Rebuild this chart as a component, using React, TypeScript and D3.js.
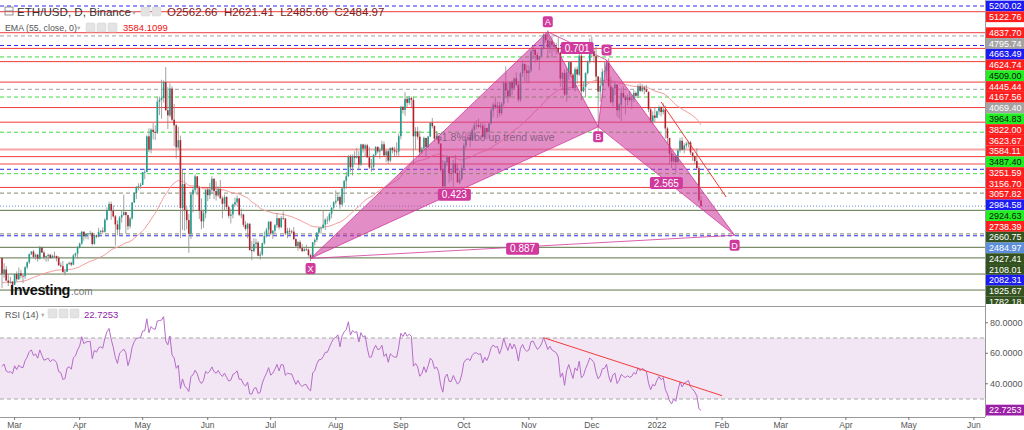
import React from 'react';
import * as d3 from 'd3';

// ---------- DATA ----------
const firstDay = [2021, 1, 23]; // Feb 23 2021
const prevClose = 1781; // close of Feb 22 2021 (open of first candle)

// daily [high, low, close]
const feb21 = [[1781,1371,1569],[1710,1511,1625],[1673,1467,1475],[1558,1400,1446],[1525,1432,1459],[1467,1293,1417]];
const mar21 = [[1570,1412,1564],[1599,1460,1492],[1651,1482,1575],[1622,1505,1541],[1549,1440,1533],[1670,1494,1655],[1735,1631,1723],
  [1840,1700,1834],[1875,1820,1868],[1889,1772,1795],[1840,1755,1825],[1838,1730,1772],[1946,1760,1924],[1932,1850,1854],
  [1880,1760,1791],[1813,1730,1806],[1840,1735,1823],[1840,1770,1782],[1830,1775,1810],[1868,1795,1806],[1815,1733,1781],
  [1806,1675,1681],[1720,1655,1670],[1740,1585,1588],[1627,1545,1595],[1708,1590,1701],[1733,1682,1715],[1730,1670,1690],
  [1835,1685,1816],[1855,1790,1842],[1945,1772,1919]];
const apr21 = [[1990,1910,1977],[2150,1960,2136],[2145,2016,2076],[2110,2040,2107],[2120,2030,2112],[2150,2080,2118],[2135,1950,1971],
  [2098,1960,2088],[2100,2050,2071],[2190,2060,2134],[2160,2112,2151],[2200,2110,2138],[2320,2125,2299],[2470,2290,2432],
  [2545,2420,2514],[2545,2300,2422],[2495,2330,2346],[2365,1950,2237],[2290,2090,2166],[2350,2080,2330],[2430,2260,2364],
  [2640,2355,2403],[2410,2110,2363],[2360,2160,2211],[2340,2180,2317],[2540,2300,2534],[2675,2530,2662],[2755,2580,2746],
  [2795,2700,2757],[2800,2720,2773]];
const may21 = [[2950,2770,2945],[2990,2850,2949],[3445,2940,3431],[3540,3215,3253],[3540,3200,3522],[3610,3390,3490],[3580,3380,3484],
  [3965,3465,3902],[3970,3720,3928],[4200,3670,3952],[4190,3890,4168],[4372,3780,3785],[4100,3530,3716],[4150,3690,4080],
  [4110,3640,3657],[3870,3300,3581],[3600,3130,3282],[3560,3260,3380],[3440,2050,2460],[2990,2160,2784],[2940,2150,2430],
  [2480,2170,2295],[2380,1850,2110],[2680,2040,2643],[2750,2400,2706],[2915,2655,2888],[2890,2630,2736],[2760,2310,2420],
  [2590,2170,2278],[2440,2190,2386],[2710,2320,2707]];
const jun21 = [[2740,2550,2634],[2800,2580,2707],[2890,2660,2856],[2860,2580,2688],[2820,2560,2630],[2750,2610,2715],[2840,2580,2590],
  [2620,2320,2517],[2640,2420,2608],[2620,2440,2472],[2490,2320,2353],[2450,2250,2372],[2520,2320,2508],[2600,2480,2537],
  [2630,2490,2590],[2590,2350,2368],[2450,2320,2372],[2380,2200,2231],[2280,2150,2178],[2260,2050,2246],[2250,1880,1889],
  [2010,1750,1875],[2050,1860,1971],[2040,1910,1990],[2010,1805,1812],[1870,1760,1829],[1990,1810,1982],[2140,1960,2080],
  [2190,2060,2165],[2275,2110,2275]];
const jul21 = [[2275,2090,2113],[2160,2040,2150],[2240,2120,2226],[2390,2190,2321],[2320,2170,2198],[2350,2190,2324],[2410,2300,2315],
  [2325,2090,2114],[2190,2050,2150],[2190,2090,2140],[2165,2110,2139],[2200,2020,2037],[2050,1940,1940],[2010,1880,1995],
  [2020,1900,1914],[1970,1860,1875],[1920,1870,1898],[1960,1880,1895],[1910,1800,1820],[1840,1740,1788],[2000,1780,1995],
  [2045,1950,2027],[2130,2000,2125],[2200,2110,2187],[2200,2110,2190],[2430,2180,2234],[2320,2160,2300],[2345,2240,2300],
  [2400,2270,2380],[2470,2320,2463],[2550,2440,2536]];
const aug21 = [[2700,2510,2557],[2665,2550,2609],[2630,2450,2507],[2740,2490,2725],[2840,2530,2827],[2950,2720,2890],[3175,2880,3157],
  [3185,2950,3012],[3185,2900,3164],[3230,3060,3141],[3275,3130,3164],[3230,2970,3048],[3330,3030,3322],[3330,3210,3265],
  [3330,3150,3310],[3330,3140,3147],[3290,2990,3011],[3125,2950,3018],[3190,2970,3182],[3300,3160,3286],[3300,3200,3226],
  [3280,3130,3243],[3370,3230,3324],[3360,3160,3173],[3250,3080,3228],[3250,3060,3102],[3280,3080,3275],[3290,3200,3244],
  [3290,3150,3226],[3350,3170,3225],[3470,3150,3433]];
const sep21 = [[3840,3390,3834],[3830,3740,3789],[4030,3710,3940],[3970,3830,3887],[3980,3860,3952],[3970,3830,3927],[3970,3050,3432],
  [3555,3250,3497],[3560,3390,3427],[3510,3170,3212],[3290,3190,3265],[3430,3240,3410],[3410,3150,3287],[3440,3275,3429],
  [3620,3420,3616],[3680,3540,3571],[3580,3360,3400],[3500,3390,3434],[3440,3320,3334],[3330,2950,2977],[3110,2740,2753],
  [3100,2715,3077],[3170,3030,3155],[3160,2800,2932],[2970,2830,2927],[3110,2750,3063],[3180,2930,2934],[3060,2810,2806],
  [2970,2780,2853],[3040,2830,3001]];
const oct21 = [[3340,2970,3308],[3470,3270,3390],[3490,3370,3418],[3440,3285,3380],[3550,3370,3518],[3620,3400,3580],[3650,3530,3587],
  [3670,3550,3561],[3620,3540,3576],[3610,3410,3425],[3600,3400,3545],[3550,3390,3492],[3610,3410,3606],[3820,3590,3786],
  [3890,3690,3862],[3970,3800,3829],[3900,3680,3849],[3900,3700,3747],[3890,3720,3877],[4180,3840,4155],[4380,3950,4054],
  [4160,3890,3971],[4180,3950,4169],[4190,3990,4082],[4230,4060,4217],[4300,4110,4131],[4180,3900,3930],[4300,3900,4287],
  [4460,4240,4414],[4420,4180,4325],[4400,4150,4288]];
const nov21 = [[4390,4150,4324],[4600,4300,4585],[4670,4480,4607],[4620,4430,4537],[4570,4440,4475],[4520,4330,4521],[4640,4510,4620],
  [4830,4610,4813],[4840,4700,4735],[4870,4500,4637],[4780,4560,4723],[4810,4500,4667],[4710,4580,4648],[4700,4540,4629],
  [4780,4550,4570],[4580,4100,4214],[4300,4060,4292],[4340,3980,3999],[4350,3900,4301],[4450,4200,4439],[4450,4240,4268],
  [4290,4060,4087],[4370,4040,4342],[4380,4140,4270],[4550,4250,4525],[4550,3920,4041],[4180,4030,4100],[4300,3960,4290],
  [4460,4270,4445],[4760,4420,4635]];
const dec21 = [[4780,4500,4586],[4630,4430,4519],[4650,4180,4242],[4250,3500,4039],[4230,3900,4117],[4350,3950,4308],[4440,4270,4319],
  [4450,4200,4432],[4490,4090,4111],[4240,3880,3895],[4100,3840,4083],[4160,3990,4133],[4140,3700,3785],[3880,3670,3862],
  [4090,3640,4018],[4110,3950,3960],[3990,3730,3922],[4000,3850,3962],[4050,3900,3924],[3990,3800,3941],[4060,3900,4020],
  [4040,3950,3982],[4140,3950,4110],[4150,4030,4049],[4140,4030,4095],[4120,4000,4067],[4130,4030,4036],[4040,3760,3798],
  [3830,3610,3633],[3770,3590,3714],[3820,3620,3683]];
const jan22 = [[3780,3680,3770],[3850,3720,3829],[3840,3700,3761],[3880,3730,3794],[3850,3400,3538],[3560,3330,3410],[3410,3060,3197],
  [3240,3000,3092],[3200,3060,3158],[3170,2930,3083],[3260,3060,3239],[3410,3210,3372],[3420,3240,3250],[3340,3200,3308],
  [3360,3270,3330],[3370,3280,3350],[3370,3180,3212],[3200,3100,3164],[3170,3060,3096],[3270,2980,3000],[3030,2530,2562.66],
  [2621.41,2485.66,2484.97]];

const emaSeed = 1440;              // EMA(55) level just before the first candle
const rsiSeed = [70, 50];          // Wilder avg gain / avg loss before the first candle

// horizontal levels: [price, kind, labelled]
const levels: [number, string, boolean][] = [
  [5200.02,'blue',true],[5122.76,'red',true],[4837.70,'red',true],[4795.74,'grey',true],[4663.49,'blue',true],
  [4624.74,'red',true],[4509.00,'green',true],[4445.44,'red',true],[4167.56,'red',true],[4069.40,'grey',true],
  [3964.83,'green',true],[3822.00,'red',true],[3623.67,'red',true],[3487.40,'green',true],[3251.59,'lightred',true],
  [3156.70,'red',true],[3057.82,'lightred',true],[2984.58,'blue',true],[2924.63,'green',true],[2738.39,'red',true],
  [2660.75,'olivedash',true],[2427.41,'olive',true],[2108.01,'olivedash',true],[2082.31,'blue',true],[1925.67,'olive',true],
  [1782.18,'olive',true],[1563,'olive',false],[1346,'olive',false]
];
const lastPrice = 2484.97;
const emaValue = 3584.11;
const emaHeader = '3584.1099';
const rsiHeader = '22.7253';
const ohlcHeader = 'O2562.66  H2621.41  L2485.66  C2484.97';

// harmonic pattern points [label, date, price]
const patternPts: [string, [number, number, number], number][] = [
  ['X', [2021, 6, 20], 1775], ['A', [2021, 10, 10], 4850], ['B', [2021, 11, 4], 3560],
  ['C', [2021, 11, 8], 4467], ['D', [2022, 1, 7], 2089]
];
const ratioLabels: [string, string, string][] = [['X','B','0.423'],['A','C','0.701'],['B','D','2.565'],['X','D','0.887']];
const priceTrend: [[number, number, number], number][] = [[[2022,0,3],3897],[[2022,1,3],2608]];
const rsiTrend: [[number, number, number], number][] = [[[2021,10,8],70.2],[[2022,1,1],32.2]];
const rsiTicks = [80, 60, 40];

// ---------- STYLES ----------
const lineStyle: Record<string, {c: string; w: number; d?: string}> = {
  blue: {c: '#2b2bf0', w: 1, d: '4,3'},
  red: {c: '#f23b3b', w: 1},
  lightred: {c: '#f5a3a3', w: 2},
  grey: {c: '#b4b4b4', w: 1.3, d: '4,3'},
  green: {c: '#3fdc3f', w: 1, d: '4,3'},
  olive: {c: '#5d7447', w: 1},
  olivedash: {c: '#9aa58c', w: 1.3, d: '4,3'},
};
const labelStyle: Record<string, {bg: string; fg: string}> = {
  blue: {bg: '#1c1cf2', fg: '#fff'},
  red: {bg: '#ff1e1e', fg: '#fff'},
  lightred: {bg: '#ff1e1e', fg: '#fff'},
  grey: {bg: '#a3a3a3', fg: '#fff'},
  green: {bg: '#22ee22', fg: '#111'},
  olive: {bg: '#33521f', fg: '#fff'},
  olivedash: {bg: '#33521f', fg: '#fff'},
  ema: {bg: '#ff1e1e', fg: '#fff'},
  last: {bg: '#5e8fdc', fg: '#fff'},
};

const FONT = 'Liberation Sans, Arial, sans-serif';
const PINK = '#cf3a9c';

export default function App() {
  const plotR = 985;
  const mainBottom = 306;
  const rsiBottom = 417;
  const x = d3.scaleTime().domain([new Date(2021, 2, 1), new Date(2022, 5, 1)]).range([14.6, 973.9]);
  const y = d3.scaleLinear().domain([5200.02, 1782.18]).range([6, 257.9]);
  const yR = d3.scaleLinear().domain([70, 30]).range([338, 399]);
  const D = (a: [number, number, number]) => new Date(a[0], a[1], a[2]);

  const raw = [...feb21, ...mar21, ...apr21, ...may21, ...jun21, ...jul21, ...aug21, ...sep21, ...oct21, ...nov21, ...dec21, ...jan22];
  let pc = prevClose;
  let ema = emaSeed;
  let [ag, al] = rsiSeed;
  const candles = raw.map((r, i) => {
    const o = pc;
    const [h, l, c] = r;
    const ch = c - pc;
    ag = (ag * 13 + Math.max(ch, 0)) / 14;
    al = (al * 13 + Math.max(-ch, 0)) / 14;
    ema = ema + (c - ema) * 2 / 56;
    pc = c;
    return {
      date: d3.timeDay.offset(new Date(firstDay[0], firstDay[1], firstDay[2]), i),
      o, h: Math.max(h, o, c), l: Math.min(l, o, c), c, ema, rsi: 100 - 100 / (1 + ag / al),
    };
  });

  const emaLine = d3.line<any>().x(d => x(d.date)).y(d => y(d.ema)).curve(d3.curveMonotoneX)(candles) || '';
  const rsiLine = d3.line<any>().x(d => x(d.date)).y(d => yR(d.rsi))(candles) || '';

  // price labels stacked
  const lbls: {p: number; kind: string}[] = levels.filter(l => l[2]).map(l => ({p: l[0], kind: l[1]}));
  lbls.push({p: emaValue, kind: 'ema'});
  lbls.push({p: lastPrice, kind: 'last'});
  lbls.sort((a, b) => b.p - a.p);
  const LH = 10.76;
  let prevY = -100;
  const placed = lbls.map(l => {
    const yy = Math.max(y(l.p), prevY + LH);
    prevY = yy;
    return {...l, yy};
  });

  const pts: Record<string, {x: number; y: number}> = {};
  patternPts.forEach(([k, d, p]) => { pts[k] = {x: x(D(d)), y: y(p)}; });
  const poly = (ks: string[]) => ks.map(k => `${pts[k].x},${pts[k].y}`).join(' ');

  const months = d3.timeMonth.range(new Date(2021, 2, 1), new Date(2022, 5, 2));
  const fmt = (d: Date) => d.getMonth() === 0 ? String(d.getFullYear()) : d3.timeFormat('%b')(d);

  const icon = (xx: number, yy: number, key: string) => (
    <rect key={key} x={xx} y={yy} width={9} height={9} rx={1} fill="#e3e3e3" stroke="#d0d0d0" strokeWidth={0.5} />
  );

  return (
    <svg width={1024} height={430} style={{position: 'absolute', left: 0, top: 0, background: '#fff'}} fontFamily={FONT}>
      <defs>
        <clipPath id="mainClip"><rect x={0} y={0} width={plotR} height={mainBottom} /></clipPath>
        <clipPath id="rsiClip"><rect x={0} y={mainBottom} width={plotR} height={rsiBottom - mainBottom} /></clipPath>
        <clipPath id="lblClip"><rect x={plotR} y={0} width={1024 - plotR} height={mainBottom - 2} /></clipPath>
      </defs>
      <rect x={0} y={0} width={1024} height={430} fill="#fff" />

      {/* main panel */}
      <g clipPath="url(#mainClip)">
        {levels.map(([p, kind], i) => {
          const s = lineStyle[kind];
          return <line key={'lv' + i} x1={0} x2={plotR} y1={y(p)} y2={y(p)} stroke={s.c} strokeWidth={s.w} strokeDasharray={s.d} />;
        })}
        <line x1={0} x2={plotR} y1={y(lastPrice)} y2={y(lastPrice)} stroke="#5e8fdc" strokeWidth={1} strokeDasharray="1,2" />
        <path d={emaLine} fill="none" stroke="#f39a9a" strokeWidth={1} />
        {candles.map((d, i) => {
          const cx = x(d.date);
          const up = d.c >= d.o;
          const col = up ? '#1f9e8c' : '#b3202a';
          const top = y(Math.max(d.o, d.c));
          const bot = y(Math.min(d.o, d.c));
          return (
            <g key={'c' + i}>
              <line x1={cx} x2={cx} y1={y(d.h)} y2={y(d.l)} stroke="#8c8c8c" strokeWidth={0.8} />
              <rect x={cx - 0.8} y={top} width={1.6} height={Math.max(0.8, bot - top)} fill={col} />
            </g>
          );
        })}
        {/* harmonic pattern */}
        <polygon points={poly(['X', 'A', 'B'])} fill={PINK} fillOpacity={0.58} stroke={PINK} strokeWidth={1} strokeOpacity={0.8} />
        <polygon points={poly(['B', 'C', 'D'])} fill={PINK} fillOpacity={0.58} stroke={PINK} strokeWidth={1} strokeOpacity={0.8} />
        <line x1={pts.X.x} y1={pts.X.y} x2={pts.D.x} y2={pts.D.y} stroke={PINK} strokeWidth={1} strokeOpacity={0.8} />
        <line x1={pts.A.x} y1={pts.A.y} x2={pts.C.x} y2={pts.C.y} stroke={PINK} strokeWidth={1} strokeOpacity={0.8} />
        <text x={436} y={141} fontSize={10.5} fill="#7d5a7a" fillOpacity={0.9}>61.8% fibo up trend wave</text>
        {/* red trend line */}
        <line x1={x(D(priceTrend[0][0]))} y1={y(priceTrend[0][1])} x2={x(D(priceTrend[1][0]))} y2={y(priceTrend[1][1])}
          stroke="#f23b3b" strokeWidth={1} />
        {ratioLabels.map(([a, b, t]) => {
          const mx = (pts[a].x + pts[b].x) / 2;
          const my = (pts[a].y + pts[b].y) / 2 + 2;
          const w = t.length * 5.6 + 5;
          return (
            <g key={t}>
              <rect x={mx - w / 2} y={my - 6} width={w} height={12} rx={2} fill={PINK} />
              <text x={mx} y={my + 3.6} fontSize={10} fill="#fff" textAnchor="middle">{t}</text>
            </g>
          );
        })}
        {patternPts.map(([k]) => {
          const p = pts[k];
          const below = k === 'X' || k === 'B' || k === 'D';
          const cy = below ? p.y + 10 : p.y - 10;
          return (
            <g key={'pl' + k}>
              <rect x={p.x - 5} y={cy - 5.5} width={10} height={11} rx={2} fill={PINK} />
              <text x={p.x} y={cy + 3.3} fontSize={9} fill="#fff" textAnchor="middle">{k}</text>
            </g>
          );
        })}
        {/* logo */}
        <text x={10} y={295} fontSize={14.5} fontWeight="bold" fill="#111" letterSpacing={-0.4}>Investing</text>
        <text x={71} y={295} fontSize={10} fill="#777">.com</text>
      </g>

      {/* header */}
      <rect x={5} y={7} width={8} height={8} fill="none" stroke="#777" strokeWidth={0.8} />
      <line x1={5} x2={13} y1={11} y2={11} stroke="#777" strokeWidth={0.8} />
      <text x={17} y={16} fontSize={11.6} fill="#333">ETH/USD, D, Binance</text>
      <text x={131} y={15} fontSize={6} fill="#aaa">▼</text>
      {icon(141, 7, 'i1')}{icon(152, 7, 'i2')}
      <text x={167} y={16} fontSize={11.5} fill="#7b1c1c" style={{whiteSpace: 'pre'}}>{ohlcHeader}</text>
      <text x={5} y={31} fontSize={8.8} fill="#555">EMA (55, close, 0)</text>
      <text x={76} y={30} fontSize={5.5} fill="#aaa">▼</text>
      {icon(86, 23, 'i3')}{icon(97, 23, 'i4')}{icon(108, 23, 'i5')}
      <text x={123} y={31} fontSize={9.5} fill="#f01010">{emaHeader}</text>

      {/* price labels */}
      <g clipPath="url(#lblClip)">
        {placed.map((l, i) => {
          const s = labelStyle[l.kind];
          return (
            <g key={'lb' + i}>
              <rect x={plotR + 1} y={l.yy - LH / 2} width={1024 - plotR - 1} height={LH} fill={s.bg} />
              <text x={plotR + 4} y={l.yy + 3.2} fontSize={9} fill={s.fg}>{l.p.toFixed(2)}</text>
            </g>
          );
        })}
      </g>

      {/* separators / axes */}
      <line x1={0} x2={plotR} y1={mainBottom + 0.5} y2={mainBottom + 0.5} stroke="#9a9a9a" strokeWidth={1} />
      <line x1={plotR + 0.5} x2={plotR + 0.5} y1={0} y2={rsiBottom} stroke="#9a9a9a" strokeWidth={1} />

      {/* RSI panel */}
      <g clipPath="url(#rsiClip)">
        <rect x={0} y={yR(70)} width={plotR} height={yR(30) - yR(70)} fill="#f3e6f4" />
        <line x1={0} x2={plotR} y1={yR(70)} y2={yR(70)} stroke="#a8a8a8" strokeDasharray="4,3" />
        <line x1={0} x2={plotR} y1={yR(30)} y2={yR(30)} stroke="#a8a8a8" strokeDasharray="4,3" />
        <path d={rsiLine} fill="none" stroke="#b56cc8" strokeWidth={1} />
        <line x1={x(D(rsiTrend[0][0]))} y1={yR(rsiTrend[0][1])} x2={x(D(rsiTrend[1][0]))} y2={yR(rsiTrend[1][1])}
          stroke="#f23b3b" strokeWidth={1} />
      </g>
      <text x={5} y={318} fontSize={9} fill="#555">RSI (14)</text>
      <text x={40} y={317} fontSize={5.5} fill="#aaa">▼</text>
      {icon(48, 309, 'i6')}{icon(59, 309, 'i7')}{icon(70, 309, 'i8')}
      <text x={84} y={318} fontSize={9.5} fill="#8e24aa">{rsiHeader}</text>
      {rsiTicks.map(t => (
        <g key={'rt' + t}>
          <line x1={plotR} x2={plotR + 3} y1={yR(t)} y2={yR(t)} stroke="#777" />
          <text x={plotR + 5} y={yR(t) + 3.2} fontSize={9} fill="#555">{t.toFixed(4)}</text>
        </g>
      ))}
      <rect x={plotR + 1} y={yR(22.7253) - 5.4} width={1024 - plotR - 1} height={10.8} fill="#9c1fa8" />
      <text x={plotR + 4} y={yR(22.7253) + 3.2} fontSize={9} fill="#fff">{rsiHeader}</text>

      {/* x axis */}
      <line x1={0} x2={plotR} y1={rsiBottom + 0.5} y2={rsiBottom + 0.5} stroke="#9a9a9a" />
      {months.map((m, i) => (
        <g key={'m' + i}>
          <line x1={x(m)} x2={x(m)} y1={rsiBottom} y2={rsiBottom + 3} stroke="#777" />
          <text x={x(m)} y={428} fontSize={8.5} fill="#555" textAnchor="middle">{fmt(m)}</text>
        </g>
      ))}
    </svg>
  );
}
